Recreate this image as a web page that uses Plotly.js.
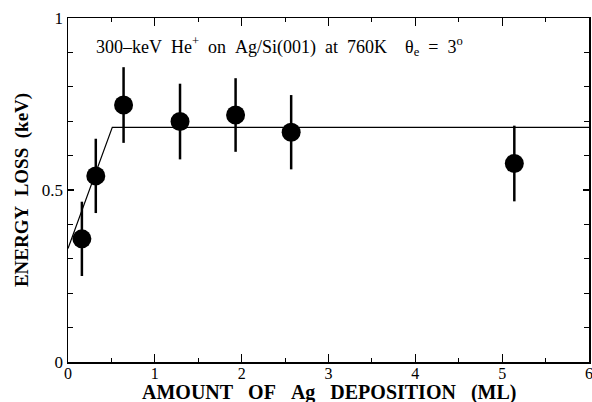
<!DOCTYPE html>
<html>
<head>
<meta charset="utf-8">
<script src="https://cdn.plot.ly/plotly-3.0.1.min.js"></script>
<style>html,body{margin:0;padding:0;background:#fff;}#chart{width:592px;height:402px;}</style>
</head>
<body>
<div id="chart"></div>
<script>
const deposition = [0.16, 0.32, 0.64, 1.29, 1.93, 2.57, 5.14];
const energyLoss = [0.358, 0.541, 0.747, 0.699, 0.718, 0.668, 0.577];
const errorBars = [0.108, 0.108, 0.11, 0.11, 0.107, 0.108, 0.11];
const fitX = [0, 0.51, 6];
const fitY = [0.33, 0.682, 0.682];
const xTicks = [0, 1, 2, 3, 4, 5, 6];
const yTicks = [0, 0.5, 1];
const yTickLabels = ['0', '0.5', '1'];

const serif = 'Liberation Serif, Times New Roman, serif';
const sp = '\u00a0\u00a0';
const sp3 = '\u00a0\u00a0\u00a0';

const traces = [
  {x: fitX, y: fitY, mode: 'lines', line: {color: '#000', width: 1.2}, hoverinfo: 'skip'},
  {x: deposition, y: energyLoss, mode: 'markers',
   marker: {color: '#000', size: 19},
   error_y: {type: 'data', array: errorBars, visible: true, color: '#000', thickness: 2.5, width: 0}}
];

const layout = {
  width: 592, height: 402,
  margin: {l: 68, r: 3, t: 18, b: 40},
  showlegend: false,
  paper_bgcolor: '#fff', plot_bgcolor: '#fff',
  font: {family: serif, color: '#000', size: 16},
  xaxis: {
    range: [0, 6], tickvals: xTicks, ticktext: xTicks.map(String),
    ticks: 'inside', ticklen: 8, tickwidth: 1.2, tickcolor: '#000',
    minor: {dtick: 0.5, ticks: 'inside', ticklen: 4, tickcolor: '#000', tickwidth: 1},
    showline: true, linecolor: '#000', linewidth: 1.5, mirror: 'allticks',
    showgrid: false, zeroline: false,
    ticklabeloverflow: 'allow', ticklabelstandoff: -4,
    tickfont: {family: serif, size: 16}
  },
  yaxis: {
    range: [0, 1], tickvals: yTicks, ticktext: yTickLabels,
    ticks: 'inside', ticklen: 6, tickwidth: 1.2, tickcolor: '#000',
    minor: {dtick: 0.1, ticks: 'inside', ticklen: 5, tickcolor: '#000', tickwidth: 1},
    showline: true, linecolor: '#000', linewidth: 1.5, mirror: 'allticks',
    showgrid: false, zeroline: false,
    tickfont: {family: serif, size: 17},
    title: {text: 'ENERGY' + sp + 'LOSS' + sp + '(keV)', font: {family: serif, size: 19, weight: 'bold'}, standoff: 8}
  },
  annotations: [
    {
      xref: 'paper', yref: 'paper', x: 0.5, y: -0.089, xanchor: 'center', yanchor: 'middle',
      showarrow: false, borderpad: 0,
      text: '<b>AMOUNT' + sp3 + 'OF' + sp3 + 'Ag' + sp3 + 'DEPOSITION' + sp3 + '(ML)</b>',
      font: {family: serif, size: 20, color: '#000'}
    },
    {
      xref: 'paper', yref: 'paper', x: 0.05, y: 0.916, xanchor: 'left', yanchor: 'middle',
      showarrow: false,
      text: '300–keV' + sp + 'He<sup>+</sup>' + sp + 'on' + sp + 'Ag/Si(001)' + sp + 'at' + sp + '760K' + sp + sp + 'θ<sub>e</sub>' + sp + '=' + sp + '3<sup>o</sup>',
      font: {family: serif, size: 18, color: '#000'}
    }
  ]
};

Plotly.newPlot('chart', traces, layout, {displayModeBar: false, staticPlot: true});
</script>
</body>
</html>
